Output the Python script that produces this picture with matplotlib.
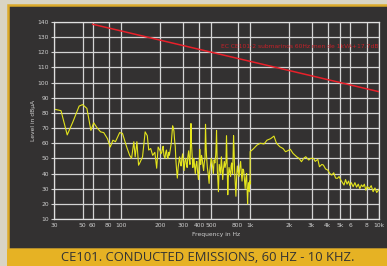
import numpy as np
import matplotlib
matplotlib.use("Agg")
import matplotlib.pyplot as plt
from matplotlib.patches import Rectangle

# measured emission level (dBuA) vs frequency (Hz)
freq_low = [30, 34, 38, 42, 47, 50, 54, 58, 61, 65, 69, 73, 78, 82, 86, 90, 97, 102,
            106, 110, 116, 120, 125, 128, 132, 136, 139, 146, 153, 159, 163, 169, 175,
            182, 188, 193]
level_low = [82.5, 81.5, 65.5, 74, 84.5, 85.5, 83, 68.5, 73.5, 70, 67.5, 67, 63, 57.5,
             62, 61, 67, 66.5, 62, 57.5, 52, 50, 61, 51, 61, 45.5, 47, 51, 67.5, 65,
             55.5, 56.5, 52, 54, 43.5, 57.5]

freq_mid = [200, 203, 206, 209, 211, 214, 218, 221, 224, 227, 230, 233, 236, 240, 244,
            247, 250, 253, 256, 259, 262, 265, 268, 272, 276, 280, 283, 287, 291, 295,
            299, 303, 307, 311, 316, 320, 324, 328, 333, 337, 341, 344, 347, 350, 354,
            357, 359, 362, 366, 370, 375, 380, 385, 390, 397, 401, 406, 409, 413, 419,
            425, 430, 435, 440, 446, 448, 450, 454, 458, 462, 465, 472, 480, 485, 491,
            498, 505, 511, 518, 525, 532, 540, 545, 548, 552, 556, 561, 567, 571, 575,
            582, 590, 594, 598, 605, 612, 620, 630, 638, 648, 652, 655, 660, 665, 670,
            677, 685, 695, 705, 711, 718, 724, 730, 737, 743, 750, 757, 766, 775, 785,
            795, 807, 820, 830, 843, 854, 865, 877, 890, 902, 915, 926, 938, 946, 955,
            962, 970, 978, 985, 992, 998]
level_mid = [55, 53, 54, 57, 58, 52, 50, 54, 55.5, 51, 50, 54, 52, 56, 60,
             66, 71.5, 70, 68, 62, 58, 49, 43, 37, 44, 48, 51, 47, 45, 50,
             53, 47, 42, 48, 50, 46, 44, 51, 55, 49, 46, 58, 73, 60, 52,
             47, 44, 49, 50, 45, 40, 46, 48, 42, 36, 45, 56, 50, 46, 52,
             49, 45, 42, 47, 50, 62, 72.5, 60, 52, 47, 44, 40, 33.5, 41, 45,
             50, 48, 44, 40, 49, 47, 52, 60, 68.5, 55, 42, 35, 28, 38, 46,
             43, 40, 47, 51, 44, 36, 43, 48, 44, 47, 58, 65, 52, 40, 26,
             38, 44, 41, 38, 45, 47, 43, 40, 52, 65, 55, 42, 33, 25, 38,
             45, 41, 38, 44, 48, 40, 35, 43, 42, 36, 30, 37, 40, 30, 20,
             28, 34, 31, 28, 35, 33]

freq_high = [1000, 1050, 1130, 1200, 1280, 1350, 1440, 1530, 1600, 1700, 1800, 1880,
             1950, 2050, 2150, 2300, 2400, 2500, 2600, 2700, 2850, 2950, 3100, 3200,
             3350, 3450, 3600, 3700, 3850, 4000, 4150, 4300, 4450, 4600, 4750, 4900,
             5050, 5200, 5350, 5500, 5650, 5800, 5950, 6100, 6300, 6500, 6700, 6900,
             7100, 7300, 7500, 7700, 7900, 8100, 8400, 8700, 9000, 9300, 9600, 10000]
level_high = [54.5, 56, 58.8, 60, 59.5, 62, 63, 64.7, 60, 57.7, 56.5, 54.4,
              55, 56, 53.3, 51, 50, 47.8, 50, 51.1, 48.9, 50, 50, 48,
              49.4, 44.5, 46, 45.6, 43, 42.3, 40, 39, 40.5, 37, 36.8, 38,
              35.7, 34, 32.4, 36, 33, 35, 32, 34, 31.3, 34, 31, 33,
              30, 32.5, 31.3, 33, 29, 31.5, 30, 32, 28, 30.5, 27.5, 29.5]

# limit line
limit_freq = [60, 10000]
limit_level = [138.5, 94]
limit_label = "EC CE101-2 submarinos 60Hz men de 1kVA+17.7dB"

xticks = [30, 50, 60, 80, 100, 200, 300, 400, 500, 800, 1000, 2000, 3000, 4000,
          5000, 6000, 8000, 10000]
xtick_labels = ["30", "50", "60", "80", "100", "200", "300", "400", "500", "800",
                "1k", "2k", "3k", "4k", "5k", "6", "8", "10k"]
yticks = list(range(10, 150, 10))

caption = "CE101. CONDUCTED EMISSIONS, 60 HZ - 10 KHZ."

W, H = 387, 266
fig = plt.figure(figsize=(W / 100, H / 100), dpi=100, facecolor="#d9d4c4")

# dark panel with gold border + gold caption strip
fig.patches.append(Rectangle((7.5 / W, 17 / H), 1, 244 / H, transform=fig.transFigure,
                             facecolor="#333131", edgecolor="#dcaa2a", linewidth=1.8,
                             zorder=-2))
fig.patches.append(Rectangle((7 / W, 0), 1, 17 / H, transform=fig.transFigure,
                             facecolor="#e6b224", edgecolor="none", zorder=-1))
fig.text(208 / W, 8.5 / H, caption, ha="center", va="center", fontsize=9.4,
         family="Open Sans", color="#333333")

ax = fig.add_axes([54 / W, 1 - 219 / H, 325 / W, 197 / H])
ax.set_facecolor("#333131")
ax.set_xscale("log")
ax.set_xlim(30, 10000)
ax.set_ylim(10, 140)

ax.set_xticks(xticks)
ax.set_xticklabels(xtick_labels)
ax.xaxis.set_minor_locator(matplotlib.ticker.NullLocator())
ax.set_yticks(yticks)
ax.grid(True, color="#d4d4d4", linewidth=0.9)
ax.set_axisbelow(True)
ax.tick_params(axis="both", colors="#cfcfcf", labelsize=4.3, length=2, width=0.8, pad=1.5)
ax.tick_params(axis="x", length=0, pad=3)
for s in ax.spines.values():
    s.set_color("#e0e0e0")
    s.set_linewidth(0.9)

ax.plot(freq_low + freq_mid + freq_high, level_low + level_mid + level_high,
        color="#e4e41c", linewidth=0.8)
ax.plot(limit_freq, limit_level, color="#e8202a", linewidth=1.1)
ax.text(9900, 124, limit_label, color="#c82028", fontsize=4.3, ha="right", va="center")

ax.set_xlabel("Frequency in Hz", color="#cfcfcf", fontsize=4.3, labelpad=3)
ax.set_ylabel("Level in dB\u00b5A", color="#cfcfcf", fontsize=4.3, labelpad=1)

fig.savefig("out.png", dpi=100, facecolor=fig.get_facecolor())
